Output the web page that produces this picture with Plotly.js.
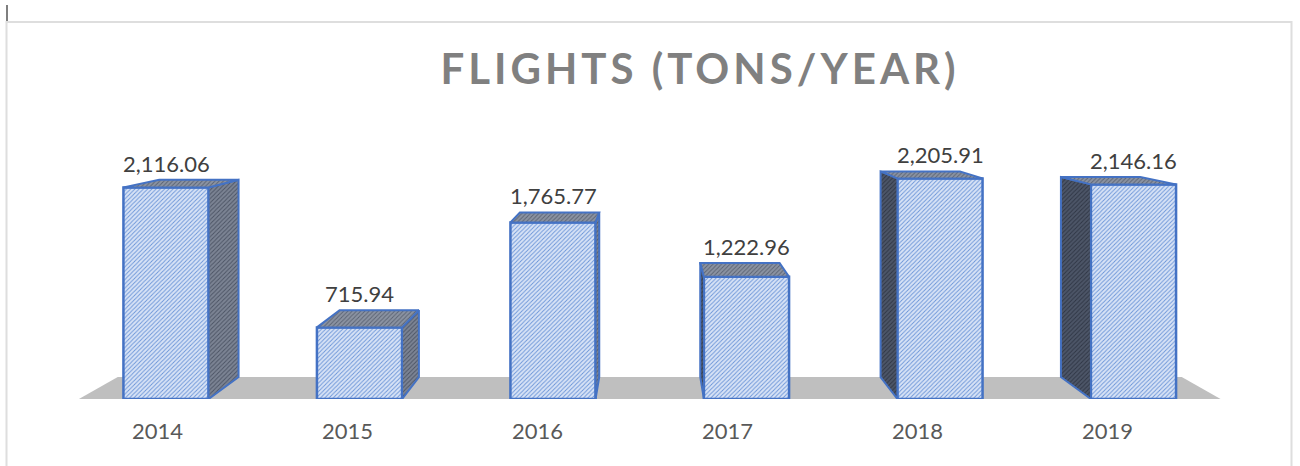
<!DOCTYPE html>
<html>
<head>
<meta charset="utf-8">
<script src="https://cdn.plot.ly/plotly-3.0.1.min.js"></script>
<style>
  html, body { margin: 0; padding: 0; background: #ffffff; }
  #chart { width: 1300px; height: 466px; }
  .gtitle { letter-spacing: 4px; }
</style>
</head>
<body>
<div id="chart"></div>
<script>
// ---- data ----
const years = ['2014', '2015', '2016', '2017', '2018', '2019'];
const flights = [2116.06, 715.94, 1765.77, 1222.96, 2205.91, 2146.16];
const chartTitle = 'FLIGHTS (TONS/YEAR)';

// ---- 3D look (camera / styling constants) ----
const idx = years.map((_, i) => i);
const HALF = 0.22;                        // half bar width (category units)
const VP_X = (years.length - 1) / 2;      // vanishing point x (category units)
const VP_Y = 3230;                        // vanishing point y (value units)
const T = 0.068;                          // depth factor
const FLOOR_PAD = 0.45;
const proj = (x, y) => [x + T * (VP_X - x), y + T * (VP_Y - y)];

const EDGE = '#4472c4';
const FONT = 'Lato, "Open Sans", sans-serif';
const traces = [];

// category axis carrier (invisible) so the labelled axis is drawn
traces.push({
  type: 'scatter', mode: 'markers', xaxis: 'x', yaxis: 'y',
  x: idx, y: idx.map(() => 0), marker: { opacity: 0, size: 1 },
  hoverinfo: 'skip', showlegend: false
});

// side faces
idx.forEach((i) => {
  const v = flights[i];
  const right = i < VP_X;
  const e = right ? i + HALF : i - HALF;
  const b1 = proj(e, v), b0 = proj(e, 0);
  traces.push({
    type: 'scatter', mode: 'lines', xaxis: 'x2', yaxis: 'y',
    x: [e, e, b1[0], b0[0], e], y: [0, v, b1[1], b0[1], 0],
    fill: 'toself',
    fillcolor: right ? '#6b7384' : '#434c5d',
    fillpattern: { shape: '/', fgcolor: right ? '#4a5263' : '#2e3544', bgcolor: right ? '#7c8494' : '#4d5668', size: 3, solidity: 0.3 },
    line: { color: EDGE, width: 2 },
    hoverinfo: 'skip', showlegend: false
  });
});
// top faces
idx.forEach((i) => {
  const v = flights[i];
  const a = proj(i + HALF, v), b = proj(i - HALF, v);
  traces.push({
    type: 'scatter', mode: 'lines', xaxis: 'x2', yaxis: 'y',
    x: [i - HALF, i + HALF, a[0], b[0], i - HALF], y: [v, v, a[1], b[1], v],
    fill: 'toself',
    fillcolor: '#7d8595',
    fillpattern: { shape: '/', fgcolor: '#5a6272', bgcolor: '#8b93a2', size: 3, solidity: 0.3 },
    line: { color: EDGE, width: 2 },
    hoverinfo: 'skip', showlegend: false
  });
});
// front faces (bars)
traces.push({
  type: 'bar', xaxis: 'x2', yaxis: 'y',
  x: idx, y: flights, width: 2 * HALF,
  marker: {
    color: '#b2c6ea',
    pattern: { shape: '/', fgcolor: '#6a94d8', bgcolor: '#d8e3f6', size: 3, solidity: 0.3 },
    line: { color: EDGE, width: 2.5 }
  },
  hoverinfo: 'x+y', showlegend: false
});

// floor
const f0 = -FLOOR_PAD, f1 = years.length - 1 + FLOOR_PAD;
const fb0 = proj(f0, 0), fb1 = proj(f1, 0);
const floorPath = `M ${f0},0 L ${fb0[0]},${fb0[1]} L ${fb1[0]},${fb1[1]} L ${f1},0 Z`;

// value labels
const annotations = idx.map((i) => {
  const v = flights[i];
  const top = proj(i, v);
  return {
    xref: 'x2', yref: 'y', x: i, y: top[1],
    text: v.toLocaleString('en-US', { minimumFractionDigits: 2, maximumFractionDigits: 2 }),
    showarrow: false, yanchor: 'bottom', xanchor: 'center', yshift: 1,
    font: { family: FONT, size: 22, color: '#404040' }
  };
});

const layout = {
  width: 1300, height: 466,
  margin: { l: 0, r: 0, t: 99, b: 67, pad: 0 },
  paper_bgcolor: '#ffffff', plot_bgcolor: 'rgba(0,0,0,0)',
  title: {
    text: chartTitle,
    x: 700 / 1300, xanchor: 'center', xref: 'container',
    y: 1 - 69 / 466, yanchor: 'middle', yref: 'container',
    font: { family: FONT, size: 42, color: '#808080', weight: 700 }
  },
  xaxis: {
    type: 'linear', range: [-157.5 / 190, (1300 - 157.5) / 190],
    tickmode: 'array', tickvals: idx, ticktext: years,
    showgrid: false, zeroline: false, showline: false, ticks: '',
    tickfont: { family: FONT, size: 22, color: '#595959' },
    ticklabelstandoff: 17, fixedrange: true
  },
  xaxis2: {
    type: 'linear', overlaying: 'x', anchor: 'y',
    range: [-166 / 193.5, (1300 - 166) / 193.5],
    visible: false, showgrid: false, zeroline: false, fixedrange: true
  },
  yaxis: {
    range: [0, 3000], visible: false, showgrid: false, zeroline: false, fixedrange: true
  },
  shapes: [
    { type: 'path', xref: 'x2', yref: 'y', path: floorPath, fillcolor: '#bfbfbf', line: { width: 0 }, layer: 'below' },
    { type: 'rect', xref: 'paper', yref: 'paper', x0: 6.5 / 1300, x1: 1291.5 / 1300, y0: -0.3, y1: 1 - (22 - 99) / 300,
      line: { color: '#dedede', width: 2 }, fillcolor: 'rgba(0,0,0,0)', layer: 'above' },
    { type: 'line', xref: 'paper', yref: 'paper', x0: 7 / 1300, x1: 7 / 1300, y0: 1 - (5 - 99) / 300, y1: 1 - (21 - 99) / 300,
      line: { color: '#555555', width: 1.5 } }
  ],
  annotations: annotations,
  showlegend: false,
  bargap: 0
};

Plotly.newPlot('chart', traces, layout, { displayModeBar: false, staticPlot: true });
</script>
</body>
</html>
